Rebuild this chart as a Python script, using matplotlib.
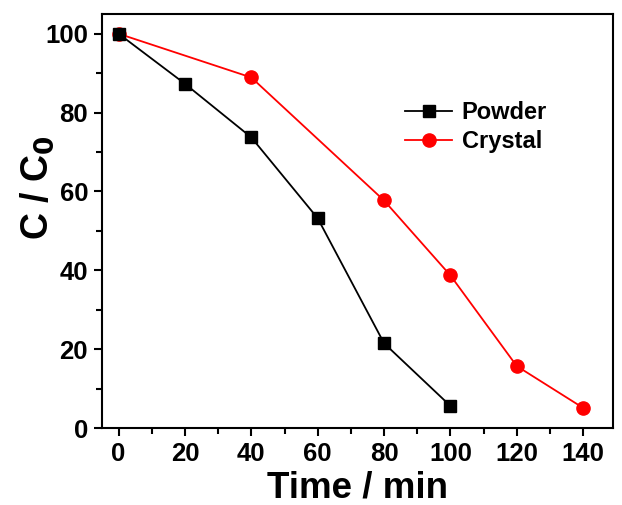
import matplotlib.pyplot as plt
from matplotlib.ticker import MultipleLocator

plt.rcParams["font.family"] = ["Liberation Sans", "DejaVu Sans"]
plt.rcParams["font.weight"] = "bold"

powder_t = [0, 20, 40, 60, 80, 100]
powder_c = [100, 87.3, 73.7, 53.2, 21.5, 5.6]
crystal_t = [0, 40, 80, 100, 120, 140]
crystal_c = [100, 88.9, 57.7, 38.7, 15.7, 5.1]

fig = plt.figure(figsize=(6.22, 5.05), dpi=100)
ax = fig.add_axes([102 / 622, 1 - 428 / 505, 511 / 622, 414 / 505])

ax.plot(powder_t, powder_c, color="black", marker="s", markersize=8, lw=1.3, label="Powder", zorder=3)
ax.plot(crystal_t, crystal_c, color="red", marker="o", markersize=9.5, lw=1.3, label="Crystal", zorder=2)

ax.set_xlim(-5, 149)
ax.set_ylim(0, 105)
ax.xaxis.set_major_locator(MultipleLocator(20))
ax.xaxis.set_minor_locator(MultipleLocator(10))
ax.yaxis.set_major_locator(MultipleLocator(20))
ax.yaxis.set_minor_locator(MultipleLocator(10))
ax.tick_params(which="major", direction="out", length=6, width=1.5, labelsize=18.5, pad=4)
ax.tick_params(which="minor", direction="out", length=4, width=1.5)
for s in ax.spines.values():
    s.set_linewidth(1.5)

ax.set_xlabel("Time / min", fontsize=26.5, fontweight="bold", labelpad=3)
ax.set_ylabel("C / C$_\\mathbf{0}$", fontsize=27, fontweight="bold")
ax.yaxis.set_label_coords(-0.09, 0.58)

ax.legend(loc="upper left", bbox_to_anchor=(0.593, 0.79), frameon=False,
          fontsize=17, handlelength=2.0, labelspacing=0.25, handletextpad=0.4,
          borderpad=0, borderaxespad=0)

fig.savefig("out.png", dpi=100)
